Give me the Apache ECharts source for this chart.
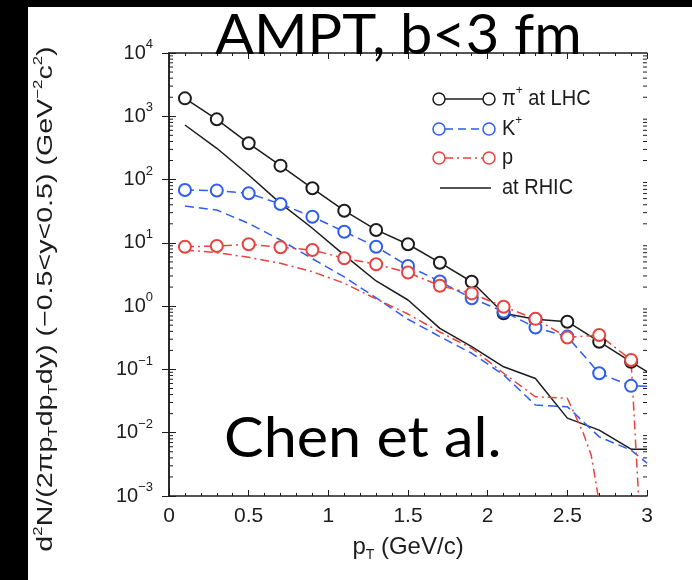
<!DOCTYPE html>
<html><head><meta charset="utf-8">
<script src="https://cdn.jsdelivr.net/npm/echarts@6/dist/echarts.min.js"></script>
<style>
html,body{margin:0;padding:0;background:#000;width:692px;height:580px;overflow:hidden}
#c{position:absolute;left:28px;top:7px;width:664px;height:573px;background:#fff}
</style></head><body><div id="c"></div>
<script>
// ---- data ----
const ptPionLHC   = [0.1,0.3,0.5,0.7,0.9,1.1,1.3,1.5,1.7,1.9,2.1,2.3,2.5,2.7,2.9,3.0];
const pionLHC     = [1920,895,374,166,72.8,32.2,16.0,9.5,4.86,2.43,0.77,0.62,0.567,0.274,0.132,0.092];
const ptKaonLHC   = [0.1,0.3,0.5,0.7,0.9,1.1,1.3,1.5,1.7,1.9,2.1,2.3,2.5,2.7,2.9,3.0];
const kaonLHC     = [68.4,67,60.6,41.1,25.9,15.0,8.7,4.3,2.45,1.33,0.82,0.46,0.33,0.087,0.055,0.054];
const ptProtonLHC = [0.1,0.3,0.5,0.7,0.9,1.1,1.3,1.5,1.7,1.9,2.1,2.3,2.5,2.7,2.9,3.1];
const protonLHC   = [8.7,8.9,9.5,8.5,7.7,5.7,4.6,3.4,2.1,1.59,0.98,0.63,0.32,0.35,0.141,1e-10];

const ptRHIC       = [0.1,0.3,0.5,0.7,0.9,1.1,1.3,1.5,1.7,1.9,2.1,2.3,2.5,2.7,2.9,3.0];
const pionRHIC     = [728,312,118,42,17,6.4,2.5,1.25,0.446,0.229,0.11,0.072,0.017,0.011,0.0055,0.0055];
const kaonRHIC     = [38.2,33,20.3,11.1,5.6,2.9,1.35,0.62,0.33,0.18,0.082,0.0274,0.0258,0.0086,0.0053,0.0033];
const ptProtonRHIC = [0.1,0.3,0.5,0.7,0.9,1.1,1.3,1.5,1.7,1.9,2.1,2.3,2.5,2.6,2.65,2.7];
const protonRHIC   = [7.7,7.0,5.9,4.75,3.5,2.3,1.3,0.75,0.39,0.216,0.087,0.037,0.035,0.0099,0.0044,0.0008];

const xTicks = [0,0.5,1,1.5,2,2.5,3];
const logMinorTicks = [];
for (let e = -3; e < 4; e++) for (let m = 2; m <= 9; m++) logMinorTicks.push(m * Math.pow(10, e));

// ---- styles ----
const BLACK = '#1c1c1c', BLUE = '#2f5cf2', RED = '#e8433e';
const FONT = 'Liberation Sans';
const pair = (xs, ys) => xs.map((x, i) => [x, ys[i]]);

const chart = echarts.init(document.getElementById('c'), null, {renderer: 'canvas'});

function lhc(name, xs, ys, color, dash) {
  return {
    name, type: 'line', data: pair(xs, ys), z: 5, clip: true,
    symbol: (v) => v[0] > 2.95 ? 'none' : 'emptyCircle',
    symbolSize: 12,
    lineStyle: {color, width: 1.5, type: dash},
    itemStyle: {color, borderWidth: 1.5},
    emphasis: {disabled: true}, animation: false
  };
}
function rhic(name, xs, ys, color, dash) {
  return {
    name, type: 'line', data: pair(xs, ys), z: 3, clip: true, symbol: 'none',
    lineStyle: {color, width: 1.5, type: dash},
    emphasis: {disabled: true}, animation: false
  };
}

const supRich = {
  sup: {fontSize: 14, fontFamily: FONT, color: BLACK, verticalAlign: 'top', lineHeight: 14},
  sub: {fontSize: 14, fontFamily: FONT, color: BLACK, verticalAlign: 'bottom', lineHeight: 14}
};

const legendRows = [
  {label: '{a|π}{sup|+}{a| at LHC}', color: BLACK, dash: null, y: 92, circles: true},
  {label: '{a|K}{sup|+}', color: BLUE, dash: [8, 5], y: 122, circles: true},
  {label: '{a|p}', color: RED, dash: [8, 4, 2, 4], y: 151, circles: true},
  {label: '{a|at RHIC}', color: BLACK, dash: null, y: 181, circles: false}
];
const legendGraphics = [];
legendRows.forEach(r => {
  if (r.circles) {
    legendGraphics.push({type: 'line', shape: {x1: 417, y1: r.y, x2: 455, y2: r.y},
      style: {stroke: r.color, lineWidth: 1.5, lineDash: r.dash}});
    [411, 461].forEach(cx => legendGraphics.push({type: 'circle', shape: {cx, cy: r.y, r: 6},
      style: {fill: '#fff', stroke: r.color, lineWidth: 1.5}}));
  } else {
    legendGraphics.push({type: 'line', shape: {x1: 412, y1: r.y, x2: 463, y2: r.y},
      style: {stroke: r.color, lineWidth: 1.5}});
  }
  legendGraphics.push({type: 'text', x: 474, y: r.y, scaleY: 1.1, style: {
    text: r.label, verticalAlign: 'middle', fill: BLACK, lineHeight: 28,
    rich: {a: {fontSize: 20, fontFamily: FONT, color: BLACK, lineHeight: 28},
           sup: {fontSize: 12, fontFamily: FONT, color: BLACK, verticalAlign: 'top', lineHeight: 12}}
  }});
});

const yName = 'd{sup|2}N/(2πp{sub|T}dp{sub|T}dy) (−0.5<y<0.5) (GeV{sup|−2}c{sup|2})';

const option = {
  animation: false,
  backgroundColor: '#fff',
  grid: {left: 141, top: 46, width: 478, height: 443},
  xAxis: [{
    type: 'value', min: 0, max: 3, interval: 0.5, position: 'bottom',
    axisLine: {lineStyle: {color: BLACK, width: 1.5}},
    axisTick: {inside: true, length: 6, lineStyle: {color: BLACK}},
    minorTick: {show: true, splitNumber: 5, length: 3, lineStyle: {color: BLACK}},
    splitLine: {show: false},
    axisLabel: {fontSize: 21, fontFamily: FONT, color: BLACK, margin: 10,
      formatter: v => xTicks.includes(v) ? String(v) : ''},
    name: 'p{sub|T} (GeV/c)', nameLocation: 'middle', nameGap: 36,
    nameTextStyle: {fontSize: 24, fontFamily: FONT, color: BLACK, lineHeight: 30, rich: supRich}
  }, {
    type: 'value', min: 0, max: 3, interval: 0.5, position: 'top',
    axisLine: {lineStyle: {color: BLACK, width: 1.5}},
    axisTick: {inside: true, length: 6, lineStyle: {color: BLACK}},
    minorTick: {show: true, splitNumber: 5, length: 3, lineStyle: {color: BLACK}},
    splitLine: {show: false}, axisLabel: {show: false}
  }],
  yAxis: [{
    type: 'log', logBase: 10, min: 1e-3, max: 1e4, interval: 1,
    axisLine: {show: true, lineStyle: {color: BLACK, width: 1.5}},
    axisTick: {show: true, inside: true, length: 7, lineStyle: {color: BLACK}},
    splitLine: {show: false},
    axisLabel: {margin: 16, fontFamily: FONT, color: BLACK,
      formatter: v => {
        const e = Math.round(Math.log10(v));
        return '{b|10}{sup|' + (e < 0 ? '−' + (-e) : e) + '}';
      },
      rich: {
        b: {fontSize: 20, fontFamily: FONT, color: BLACK, lineHeight: 30},
        sup: {fontSize: 13, fontFamily: FONT, color: BLACK, verticalAlign: 'top', lineHeight: 13}
      }
    }
  }, {
    type: 'log', logBase: 10, min: 1e-3, max: 1e4, interval: 1, position: 'right',
    axisLine: {show: true, lineStyle: {color: BLACK, width: 1.5}},
    axisTick: {show: true, inside: true, length: 7, lineStyle: {color: BLACK}},
    splitLine: {show: false}, axisLabel: {show: false}
  }],
  series: [
    {
      type: 'custom', name: 'minorTicks', silent: true, z: 2,
      data: logMinorTicks.map(v => [0, v]),
      renderItem: (params, api) => {
        const v = api.value(1);
        const l = api.coord([0, v]);
        const r = api.coord([3, v]);
        return {type: 'group', children: [
          {type: 'line', shape: {x1: l[0], y1: l[1], x2: l[0] + 4, y2: l[1]}, style: {stroke: BLACK, lineWidth: 1}},
          {type: 'line', shape: {x1: r[0] - 4, y1: r[1], x2: r[0], y2: r[1]}, style: {stroke: BLACK, lineWidth: 1}}
        ]};
      }
    },
    rhic('pi RHIC', ptRHIC, pionRHIC, BLACK, 'solid'),
    rhic('K RHIC', ptRHIC, kaonRHIC, BLUE, [9, 5]),
    rhic('p RHIC', ptProtonRHIC, protonRHIC, RED, [9, 4, 2, 4]),
    lhc('pi LHC', ptPionLHC, pionLHC, BLACK, 'solid'),
    lhc('K LHC', ptKaonLHC, kaonLHC, BLUE, [9, 5]),
    lhc('p LHC', ptProtonLHC, protonLHC, RED, [9, 4, 2, 4])
  ],
  graphic: [
    {type: 'text', x: 187, y: 29, z: 10, scaleX: 1.03, style: {text: 'AMPT, b<3 fm', font: '56px Lato', fill: '#000', verticalAlign: 'middle'}},
    {type: 'text', x: 196, y: 432, z: 10, scaleX: 1.06, style: {text: 'Chen et al.', font: '56px Lato', fill: '#000', verticalAlign: 'middle'}},
    {type: 'text', x: 18, y: 292, rotation: Math.PI / 2, scaleX: 1.3, z: 10, style: {
      text: yName, align: 'center', verticalAlign: 'middle', fill: BLACK, lineHeight: 28,
      fontSize: 22, fontFamily: FONT, rich: {
        sup: {fontSize: 13, fontFamily: FONT, color: BLACK, verticalAlign: 'top', lineHeight: 13},
        sub: {fontSize: 13, fontFamily: FONT, color: BLACK, verticalAlign: 'bottom', lineHeight: 13}
      }}},
    ...legendGraphics
  ]
};
chart.setOption(option);
</script></body></html>
